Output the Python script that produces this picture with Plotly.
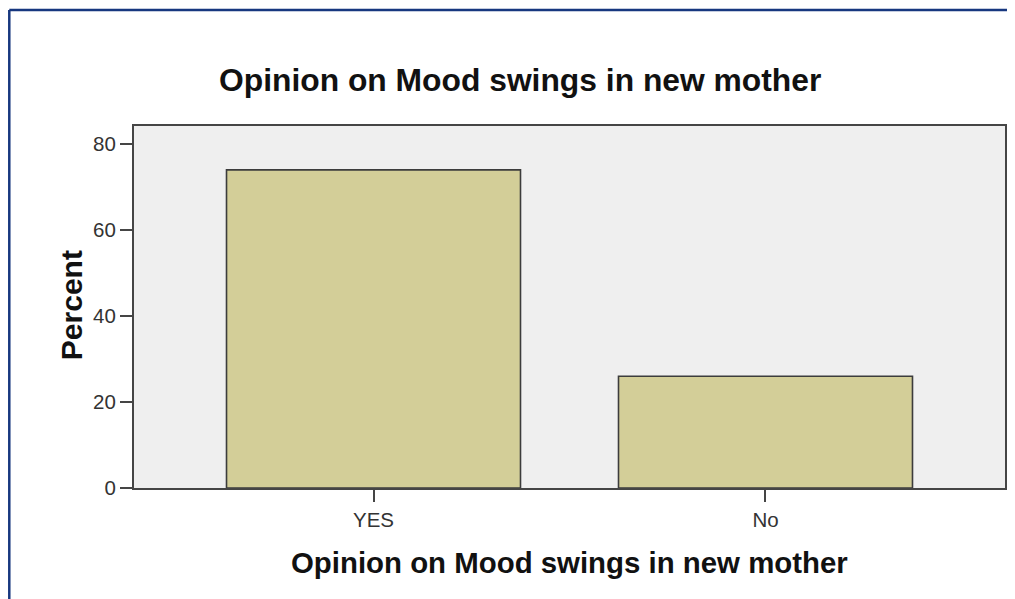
import plotly.graph_objects as go

categories = ["YES", "No"]
percent_values = [74, 26]
y_tick_values = [0, 20, 40, 60, 80]
title_text = "Opinion on Mood swings in new mother"
x_title_text = "Opinion on Mood swings in new mother"
y_title_text = "Percent"

# The page body has a default 8px margin, so the figure is drawn 8px in.
OFF = 8
W, H = 1015 - OFF, 599 - OFF
L, R, T, B = 134 - OFF, 8, 126 - OFF, 111
pw, ph = W - L - R, H - T - B

def px_x(x):
    return (x - OFF - L) / pw

def px_y(y):
    return 1 - (y - OFF - T) / ph

fig = go.Figure()
fig.add_trace(go.Bar(
    x=categories, y=percent_values, width=0.75,
    marker=dict(color="#d3ce98", line=dict(color="#3c3c3c", width=1.6)),
    hoverinfo="x+y",
))

font_family = "Arial, Liberation Sans, sans-serif"
fig.update_layout(
    width=W, height=H,
    margin=dict(l=L, r=R, t=T, b=B, pad=0),
    paper_bgcolor="white", plot_bgcolor="#efefef",
    showlegend=False,
    font=dict(family=font_family, color="#222222"),
    xaxis=dict(
        type="category", range=[-0.611, 1.611],
        showline=True, mirror=True, linecolor="#454545", linewidth=2,
        ticks="outside", ticklen=12, tickwidth=2, tickcolor="#454545",
        tickfont=dict(size=20.5, color="#333333"), showgrid=False, zeroline=False,
    ),
    yaxis=dict(
        range=[0, 84.2], tickvals=y_tick_values,
        showline=True, mirror=True, linecolor="#454545", linewidth=2,
        ticks="outside", ticklen=12, tickwidth=2, tickcolor="#454545",
        tickfont=dict(size=20.5, color="#333333"), showgrid=False, zeroline=False,
    ),
    shapes=[
        dict(type="line", xref="paper", yref="paper",
             x0=px_x(9), x1=px_x(9), y0=px_y(10), y1=px_y(620),
             line=dict(color="#17377f", width=2.5)),
        dict(type="line", xref="paper", yref="paper",
             x0=px_x(9), x1=px_x(1040), y0=px_y(10), y1=px_y(10),
             line=dict(color="#17377f", width=2.5)),
    ],
    annotations=[
        dict(text="<b>%s</b>" % title_text, xref="paper", yref="paper",
             x=px_x(520.5), y=px_y(80), xanchor="center", yanchor="middle",
             showarrow=False, font=dict(size=31.8, color="#111111")),
        dict(text="<b>%s</b>" % x_title_text, xref="paper", yref="paper",
             x=px_x(571), y=px_y(562), xanchor="center", yanchor="middle",
             showarrow=False, font=dict(size=29.4, color="#111111")),
        dict(text="<b>%s</b>" % y_title_text, xref="paper", yref="paper",
             x=px_x(71), y=px_y(305), xanchor="center", yanchor="middle",
             textangle=-90, showarrow=False, font=dict(size=30, color="#111111")),
    ],
)

fig.write_html("out.html")
